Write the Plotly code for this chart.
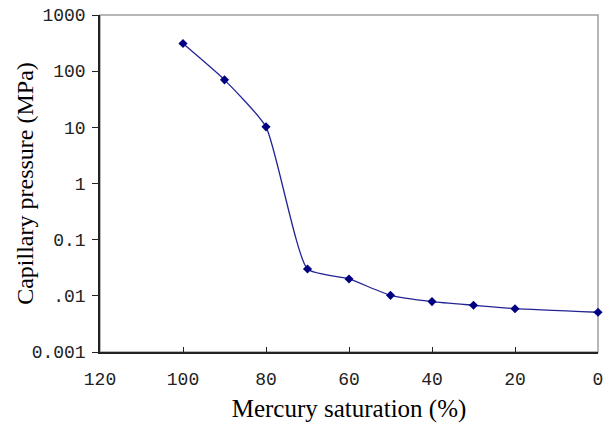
import plotly.graph_objects as go

saturation = [100, 90, 80, 70, 60, 50, 40, 30, 20, 0]
pressure = [310, 70, 10.2, 0.03, 0.02, 0.0102, 0.0079, 0.0068, 0.0059, 0.0051]

y_tickvals = [0.001, 0.01, 0.1, 1, 10, 100, 1000]
y_ticktext = ["0.001", ".01", "0.1", "1", "10", "100", "1000"]
x_tickvals = [120, 100, 80, 60, 40, 20, 0]

fig = go.Figure()
fig.add_trace(go.Scatter(
    x=saturation, y=pressure, mode="lines+markers",
    line=dict(color="#232396", width=1.3, shape="spline", smoothing=0.5),
    marker=dict(symbol="diamond", size=7, color="#000080"),
    showlegend=False, cliponaxis=False,
))

tick_font = dict(family="Liberation Mono", size=18, color="#222")
fig.update_layout(
    width=610, height=429,
    margin=dict(l=100, r=12, t=15, b=77),
    paper_bgcolor="white", plot_bgcolor="white",
    shapes=[dict(type="rect", xref="paper", yref="paper", x0=0, x1=1, y0=0, y1=1,
                 line=dict(color="#a0a0a0", width=1.5), layer="below")],
    annotations=[dict(text="Capillary pressure (MPa)", textangle=-90,
                      xref="paper", yref="paper", x=-0.152, y=0.5,
                      xanchor="center", yanchor="middle", showarrow=False,
                      font=dict(family="Liberation Serif", size=24, color="black"))],
)
fig.update_xaxes(
    range=[120, 0], tickvals=x_tickvals, ticktext=[str(v) for v in x_tickvals],
    showgrid=False, zeroline=False, showline=True, linecolor="#222", linewidth=1.5,
    ticks="inside", ticklen=5, tickcolor="#222", tickfont=tick_font, automargin=False,
    ticklabelstandoff=10,
    title=dict(text="Mercury saturation (%)", font=dict(family="Liberation Serif", size=25, color="black"), standoff=10),
)
fig.update_yaxes(
    type="log", range=[-3, 3], tickvals=y_tickvals, ticktext=y_ticktext,
    showgrid=False, zeroline=False, showline=True, linecolor="#222", linewidth=1.5,
    ticks="outside", ticklen=6, tickcolor="#222", tickfont=tick_font, automargin=False,
    ticklabelstandoff=3,
)

fig.write_html("out.html", config={"displayModeBar": False},
               post_script="document.body.style.margin='0';")
